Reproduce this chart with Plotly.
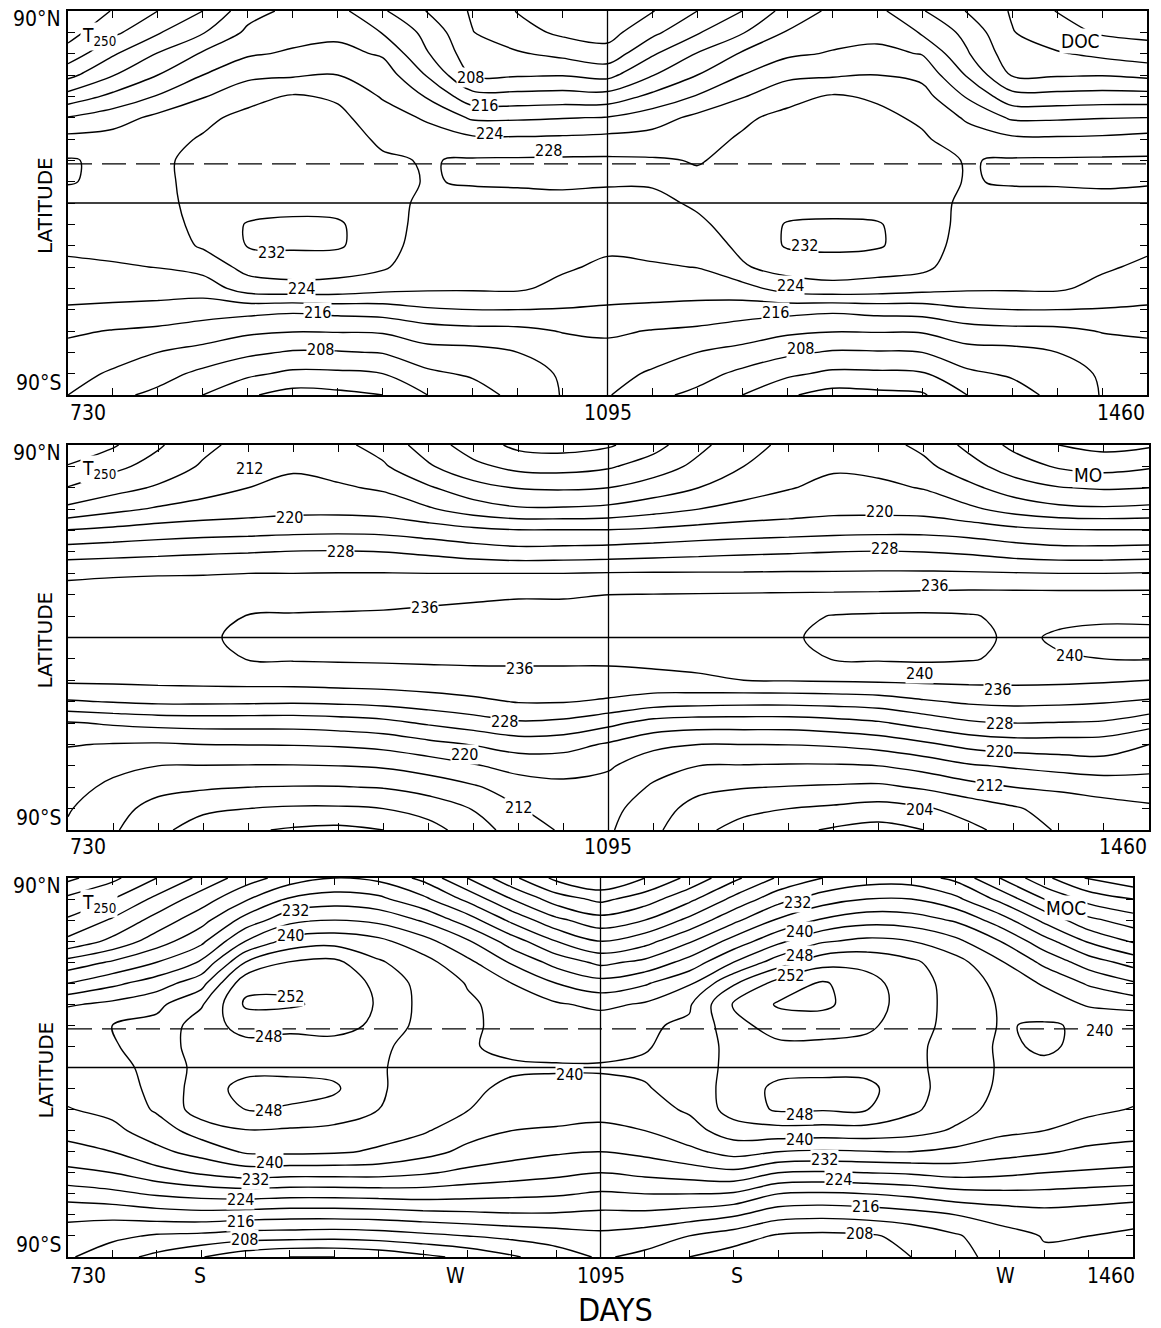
import numpy as np
import plotly.graph_objects as go

# ---------------- data ----------------
days = [730, 760.4, 790.8, 821.3, 851.7, 882.1, 912.5, 942.9, 973.3, 1003.8, 1034.2, 1064.6,
        1095, 1125.4, 1155.8, 1186.3, 1216.7, 1247.1, 1277.5, 1307.9, 1338.3, 1368.8, 1399.2,
        1429.6, 1460]
lats = [90, 80, 70, 60, 50, 40, 30, 20, 10, 0, -10, -20, -30, -40, -50, -60, -70, -80, -90]

# each inner list: temperature (K) from 90N to 90S at one of the days above
doc_cols = [
    [197, 198.5, 201.5, 206.8, 213.5, 220.2, 225.2, 228.3, 228.2, 226.8, 225.8, 224.8, 223.2, 221.4, 219.6, 216.6, 214.8, 213.4, 212],
    [200.2, 203, 207.5, 211.8, 217, 222.2, 225.5, 227.2, 227.3, 226.8, 226, 225.2, 223.6, 221.6, 219.2, 215.8, 213.6, 211.5, 209],
    [204, 207.6, 212.2, 216, 220.3, 225, 226.8, 227.5, 227.6, 227.3, 226.5, 225.6, 224.1, 221.6, 218.8, 215.2, 212, 209.6, 207],
    [208, 211.7, 216.5, 220, 223.7, 227.2, 228.3, 228.8, 228.6, 228.8, 229, 228.5, 225.5, 221.7, 218, 214, 210.8, 207, 204],
    [214.5, 216.8, 219.5, 223, 226.8, 229, 229.4, 229.5, 229.6, 230, 232.3, 232.2, 229.3, 226, 217.4, 212.8, 208.8, 204.8, 200.5],
    [217, 218.6, 220.5, 223.5, 228.4, 229.2, 229.5, 229.6, 229.8, 230.6, 232.8, 232.6, 229.8, 226.8, 216.8, 212.2, 207.6, 203.2, 198.5],
    [217.2, 219, 221.2, 224, 227.5, 228.9, 229.3, 229.6, 229.8, 230.5, 232.5, 232.5, 229.6, 226.5, 217.5, 212.3, 207.7, 203.3, 199],
    [212.5, 215.8, 219.5, 222.2, 223.6, 226, 227.5, 228.4, 229, 229.3, 229.5, 229.5, 228.5, 225.3, 218, 212.5, 208.2, 204, 200],
    [207.8, 210.8, 212.2, 215.6, 219.6, 223.4, 226, 227.8, 227.8, 227.2, 226.8, 226.2, 225.5, 224.6, 219.5, 214.2, 210.6, 207.2, 204],
    [203.5, 204.1, 205.6, 207.6, 213.4, 219.4, 224.8, 228.4, 228.3, 226.8, 226.2, 225.6, 225, 224.5, 220, 214.8, 210.8, 208.6, 206],
    [199.8, 201.5, 204.4, 207.6, 213.3, 219.4, 224.6, 228.5, 228.4, 227, 226.3, 225.7, 225.2, 224.6, 220, 215, 212, 210, 209.3],
    [197, 199.2, 203, 207.8, 213.6, 219.8, 224.8, 228.6, 228.5, 227.2, 226.4, 225.6, 224.6, 222.8, 219.8, 216.2, 214, 212.5, 212.2],
    [197, 198.5, 201.5, 206.8, 213.5, 220.2, 225.2, 228.6, 228.4, 226.8, 225.8, 224.8, 223.2, 221.4, 219.6, 216.6, 214.8, 213.4, 212.3],
    [199.8, 203, 207.5, 211.8, 217, 222.2, 225.5, 228.4, 228.3, 227.3, 226.2, 225.2, 223.6, 221.6, 219.2, 215.8, 213.6, 211.5, 209],
    [204, 207.6, 212.2, 216, 220.3, 225, 226.8, 227.8, 228.6, 228.4, 227.5, 225.8, 224.1, 221.6, 218.8, 215.2, 212, 209.6, 207],
    [208, 211.7, 216.5, 220, 223.7, 227.4, 228.4, 228.8, 228.8, 229, 229.2, 228.9, 227.6, 222.5, 218, 214, 210.8, 207, 204],
    [213.5, 216.3, 219.3, 223, 226.8, 229, 229.4, 229.5, 229.6, 230, 232.3, 232.4, 229.6, 225.8, 217.4, 212.8, 208.8, 204.8, 200.5],
    [216.8, 218.5, 220.3, 223.5, 228.4, 229.2, 229.5, 229.6, 229.8, 230.3, 232.6, 232.9, 230, 226.8, 216.8, 212.2, 207.6, 203.2, 198.5],
    [217, 218.8, 221, 224, 227.5, 228.9, 229.3, 229.6, 229.8, 230.3, 232.3, 232.4, 229.6, 226.3, 217.5, 212.3, 207.7, 203.3, 199],
    [212.3, 215.6, 219.8, 223, 225.5, 227.4, 228.5, 229.2, 229.4, 229.6, 230, 230, 229, 225.4, 217.8, 212.4, 208, 203.6, 199.5],
    [207.8, 210.8, 212.4, 215.6, 219.6, 223.4, 226, 227.8, 227.8, 227.2, 226.8, 226.2, 225.5, 224.6, 219.5, 214.2, 210.6, 207.2, 204],
    [203.6, 204.2, 205.6, 207.6, 213.4, 219.4, 224.8, 228.4, 228.3, 226.8, 226.2, 225.6, 225, 224.5, 220, 214.8, 210.8, 208.6, 206],
    [199.8, 201.5, 204.4, 207.6, 213.3, 219.4, 224.6, 228.5, 228.3, 227, 226.3, 225.7, 225.2, 224.6, 220, 215, 212, 210, 209.3],
    [198, 199.5, 203, 207.8, 213.6, 219.8, 224.8, 228.6, 228.4, 227.2, 226.4, 225.6, 224.6, 222.8, 219.8, 216.2, 214, 212.5, 212.2],
    [197.5, 199, 201.7, 207, 213.5, 220, 225.5, 228.6, 228.3, 226.8, 225.8, 224.8, 223.2, 221.4, 219.6, 216.6, 214.8, 213.4, 212],
]

mo_cols = [
    [200.5, 204.3, 208.2, 213, 220.3, 226, 231.5, 233, 233.6, 234, 233.6, 232.7, 227.6, 219.6, 216.2, 214.5, 213.3, 212.3, 211.5],
    [203.5, 207, 210.5, 215, 221, 226.5, 231.7, 233.2, 233.8, 234.2, 233.8, 232.8, 228.2, 220.5, 215.8, 213, 211.2, 209.5, 208.5],
    [207.5, 209.5, 212.5, 216.5, 221.8, 227, 231.8, 233.5, 234.2, 234.5, 234.1, 233, 228.8, 221.2, 215.6, 212, 209.2, 206.5, 205],
    [211, 212.5, 214.5, 217.5, 222.3, 227.5, 231.8, 234, 235.2, 235.5, 235.2, 233.2, 228.8, 221.5, 216, 211.9, 208.5, 204.8, 202],
    [213.5, 214.5, 216, 218.2, 222.6, 227.8, 232, 234.3, 236.1, 236.7, 236.1, 233.4, 228.7, 221.5, 216.1, 211.8, 208, 204, 200.5],
    [214, 215.5, 217, 218.8, 223, 228.2, 232, 234.3, 236.3, 237, 236.3, 233.5, 228.5, 221.5, 216.2, 211.8, 207.8, 203.5, 199.5],
    [213, 214.5, 216.5, 218.8, 223.2, 228.3, 232.1, 234.5, 236.4, 237.1, 236.4, 233.8, 228.8, 222, 216.5, 212, 207.8, 203.5, 199],
    [210.5, 212.5, 215.5, 218.3, 223, 228, 232.1, 234.7, 236.5, 237.2, 236.5, 234, 229.3, 222.8, 217.2, 212.5, 208.2, 204, 200],
    [206, 208.5, 212.5, 216.5, 222, 227.2, 232, 235.3, 236.6, 237.2, 236.6, 234.3, 230.2, 224.5, 218.8, 213.8, 209.6, 205.6, 202.5],
    [202, 205, 209.5, 214, 221, 226, 232, 235.6, 236.7, 237.2, 236.7, 234.5, 231.2, 226, 220.2, 215.6, 211.5, 208.2, 206],
    [199, 202.8, 207.8, 212.5, 220.3, 225.3, 232, 235.8, 236.8, 237.2, 236.7, 234.6, 232.2, 227.5, 221.8, 217.4, 214, 211.8, 210],
    [198.5, 202.5, 207.5, 212.5, 220.3, 225.5, 232, 235.8, 236.8, 237.3, 236.7, 234.6, 232.2, 227, 221.5, 217.6, 215, 213.5, 212.5],
    [199.5, 203.5, 208, 213, 220.3, 225.8, 232.2, 236, 237, 237.4, 236.8, 234.4, 231.5, 225, 219.5, 216.5, 214.5, 213.2, 212.5],
    [202.5, 206, 209.8, 214.5, 220.8, 226.3, 232.3, 236.1, 237.1, 237.5, 236.9, 235, 230, 222.5, 217, 213.5, 211.5, 209.8, 208.8],
    [207, 209, 212, 216, 221.5, 226.8, 232.3, 236.2, 237.3, 237.7, 237, 235.5, 229.5, 221.8, 216, 212, 209, 206.5, 205],
    [210.5, 212, 214.2, 217.3, 222, 227.3, 232.3, 236.3, 237.8, 238.3, 237.5, 236, 229.2, 221.8, 216, 211.8, 208.2, 205, 202.5],
    [213, 214.2, 215.8, 218, 222.4, 227.6, 232.4, 236.4, 239, 239.6, 238.6, 236.2, 229.2, 221.8, 216.1, 211.6, 207.8, 204, 201],
    [214, 215.5, 217, 218.8, 222.8, 228, 232.4, 236.5, 240.2, 240.8, 240.2, 236.4, 229.5, 222.5, 216.5, 211.6, 207.5, 203.3, 199.5],
    [213.5, 215, 216.8, 218.8, 223, 228.2, 232.5, 236.6, 240.5, 241, 240.4, 236.6, 230, 223.5, 217.5, 212, 207.2, 202.5, 198.5],
    [211, 213, 215.8, 218.5, 223, 228, 232.5, 236.8, 240.6, 241.1, 240.6, 236.8, 231.5, 225.5, 219.2, 213.5, 208.5, 203.5, 200],
    [207, 209.5, 213, 216.8, 222.3, 227.4, 232.4, 237, 240.3, 240.8, 240.3, 236.9, 232.6, 227.4, 221.2, 215.5, 210.5, 205.5, 203],
    [203, 206, 210, 214.5, 221.2, 226.2, 232.2, 237, 239.2, 239.5, 239.2, 236.9, 233, 228, 222.2, 216.5, 212, 207.5, 205.5],
    [200, 203.5, 208.2, 213, 220.5, 225.5, 232, 237, 239.5, 240.3, 239.8, 236.8, 232.8, 227.8, 222.2, 217.5, 212.6, 209.8, 208.5],
    [198.8, 202.5, 207.6, 212.6, 220.3, 225.5, 232, 237, 239.7, 240.5, 240, 236.5, 232.3, 227.5, 222, 218.3, 213.2, 210.8, 210],
    [199.5, 203.5, 208, 213, 220.3, 225.8, 232.2, 237, 239.6, 240.6, 240.2, 236, 231.5, 225.5, 220, 217.5, 213.5, 211.5, 211],
]

moc_cols = [
    [199, 205, 208.5, 213, 221.5, 228, 235.5, 239.7, 239.4, 238.5, 237.2, 235.8, 233.5, 230.5, 227, 222, 216.8, 214.5, 212.5],
    [203, 208, 212.5, 217, 224.5, 231, 237, 240, 239.8, 239.2, 238.5, 237, 235, 232, 228, 223, 217, 213, 209.5],
    [208, 213, 217.5, 222, 228, 234, 239, 241.2, 241, 240.8, 240.8, 240.5, 238, 235, 230.5, 224.5, 218, 211.5, 207],
    [213, 218, 222.5, 227, 232.5, 238.5, 243.5, 246, 246.5, 245.5, 246, 246, 241.8, 237.5, 232.5, 225.5, 218.5, 211, 204.2],
    [218, 223.5, 229.5, 236, 244, 250.8, 252.6, 249.5, 246.8, 246.8, 249.3, 248, 243.8, 240.5, 234, 226, 218, 210, 201.5],
    [222, 228.5, 234.8, 241.5, 248.2, 251, 252.6, 249, 246.5, 246.8, 249.5, 247.5, 243.5, 240.8, 233.5, 225.5, 217.5, 209.8, 200],
    [224, 230, 236, 242.5, 249, 250.2, 250.8, 249.5, 246.5, 246.8, 248.6, 246.5, 243, 240.5, 233.5, 225.5, 217.5, 209.5, 200],
    [223, 229, 235, 241, 244.5, 247.2, 247.6, 247.2, 245, 244.5, 244.5, 244, 241.5, 239.5, 233.5, 225.8, 217.8, 210, 201],
    [219, 225, 231.5, 237.5, 241.5, 242.5, 242.8, 242.5, 242, 242, 242, 241.5, 240.5, 237.5, 232.5, 226, 218.5, 211, 203],
    [212, 219, 226, 232.5, 237, 239.8, 240.5, 240.4, 240.2, 240.6, 240.4, 240.1, 237.5, 235, 231, 225.5, 219, 212, 205],
    [205, 212, 219, 226, 231.5, 236, 238.8, 239.3, 239.5, 240.3, 239.6, 238.5, 236, 233.5, 230, 225, 219.5, 213, 207.5],
    [199, 206, 213, 220, 226.5, 232, 236.5, 238.8, 239.3, 240.2, 239.5, 238, 235.5, 232.5, 229, 224.5, 219.5, 214, 210],
    [196, 203, 209.5, 216, 223, 229.5, 235, 238.5, 239.3, 240.2, 239.5, 237.5, 235, 232, 228, 223.5, 219, 215, 212.5],
    [200, 206, 212, 218.5, 225, 231.5, 236.5, 239.5, 239.8, 240.4, 239.8, 238.5, 236, 233, 229, 224, 219, 214, 211],
    [205, 211, 217, 223.5, 229.5, 235.5, 239.5, 240.6, 241, 241.2, 241, 240.5, 238.5, 235, 230, 224, 218, 212, 208],
    [211, 217, 223, 229.5, 236, 243.5, 248.5, 246.5, 245.5, 245.5, 246, 245.8, 242, 237.5, 231, 223.5, 216.5, 210, 206],
    [216.5, 222.5, 228.5, 235, 242, 249.5, 252.4, 250, 247, 246.8, 248.8, 248.5, 242.5, 236, 228, 220, 213.5, 207.5, 205],
    [220, 226, 232.5, 239.5, 246.5, 252.5, 252.8, 250, 247, 246.8, 249.3, 248.3, 242.3, 235.5, 227.5, 219.5, 213, 207, 205],
    [222, 228, 234.5, 241, 246.8, 249.5, 250, 248.8, 246.8, 246.8, 249, 248.1, 242.5, 235.8, 228, 220, 213.5, 207.5, 205.5],
    [222, 228, 234, 240, 244.8, 245.8, 246, 245.8, 245.2, 245.2, 245.5, 244.8, 241.5, 236, 228.5, 221, 214.5, 209, 208],
    [219, 225, 231.5, 237, 241.5, 242.5, 242.6, 242.5, 242, 242, 242, 241.5, 239.5, 235, 229.5, 222.5, 216, 211.5, 210.5],
    [212, 219, 226, 232, 236.5, 239, 239.7, 239.8, 239.6, 239.7, 239.5, 238.8, 237, 233.5, 229, 223, 217.5, 214.5, 213.5],
    [205, 212, 219, 225.5, 231, 235.5, 238.5, 240.3, 240.3, 239.6, 239, 238, 236, 232.5, 228, 223, 218.5, 216.2, 215.5],
    [199.5, 206.5, 213, 219.5, 226, 231.5, 235.5, 239.6, 239.5, 239, 238, 236.8, 234.5, 231, 227.5, 222.5, 218, 216, 215.8],
    [197, 204, 210, 215.5, 222.5, 228.5, 234.5, 239.5, 239.4, 238.5, 237.2, 235.8, 233.5, 230.5, 227, 222, 217, 215.5, 214.5],
]

contour_interval = 4
dashed_lat = 18.3

# contour labels: (text, day, latitude)
doc_labels = [("208", 1002, 58.6), ("216", 1012, 45.5), ("224", 1015.5, 32.8), ("228", 1055, 24.8),
              ("232", 868, -23), ("224", 888, -39.9), ("216", 899, -51.1), ("208", 900.5, -68.9),
              ("232", 1228.6, -19.7), ("224", 1218.5, -38.5), ("216", 1208.4, -51.1), ("208", 1225.3, -68)]
mo_labels = [("212", 852.9, 79.2), ("220", 879.9, 55.9), ("228", 913.7, 40), ("236", 971, 13.8),
             ("236", 1035.2, -14.3), ("228", 1025, -39.5), ("220", 998, -54.9), ("212", 1033.9, -79.7),
             ("220", 1278.3, 58.7), ("228", 1281.7, 41.8), ("236", 1315.4, 24.5), ("240", 1305.3, -16.6),
             ("240", 1406.6, -8.2), ("236", 1358, -24.5), ("228", 1359.3, -40), ("220", 1359.3, -53.5),
             ("212", 1352.6, -69.4), ("204", 1305.3, -80.6)]
moc_labels = [("232", 885.6, 74.8), ("240", 882.2, 62.9), ("252", 882.2, 33.5), ("248", 867.1, 14.5),
              ("240", 1074, -3.5), ("248", 867.1, -20.2), ("240", 868.4, -44.9), ("232", 858.2, -53.4),
              ("224", 847.9, -62.9), ("216", 847.9, -73.3), ("208", 851.3, -81.9),
              ("232", 1230.3, 78.6), ("240", 1231.7, 64.4), ("248", 1231.7, 53.4), ("252", 1224.9, 43.9),
              ("240", 1437.3, 17.8), ("248", 1231.7, -22.5), ("240", 1231.7, -34.4), ("232", 1248.8, -43.9),
              ("224", 1257.8, -53.4), ("216", 1276.3, -66.2), ("208", 1272.8, -78.6)]

month_ticks = [730 + 365 * k / 12 for k in range(25)]
lat_ticks = list(range(-90, 91, 10))

# ---------------- figure ----------------
W, H = 1161, 1328
FONT = "DejaVu Sans Condensed"

panels = [
    dict(cols=doc_cols, labels=doc_labels, xpx=(68, 1147), ypx=(11, 395), name="DOC", dashed=True,
         xt=[("730", 68, "left"), ("1095", 608, "center"), ("1460", 1147, "right")], xty=413),
    dict(cols=mo_cols, labels=mo_labels, xpx=(68, 1149), ypx=(445, 830), name="MO", dashed=False,
         xt=[("730", 68, "left"), ("1095", 608, "center"), ("1460", 1149, "right")], xty=847),
    dict(cols=moc_cols, labels=moc_labels, xpx=(68, 1133), ypx=(878, 1257), name="MOC", dashed=True,
         xt=[("730", 68, "left"), ("S", 200, "center"), ("W", 455, "center"), ("1095", 601, "center"),
             ("S", 737, "center"), ("W", 1005, "center"), ("1460", 1137, "right")], xty=1276),
]

fig = go.Figure()
annotations = []
shapes = []
layout = {}

for i, p in enumerate(panels):
    n = "" if i == 0 else str(i + 1)
    xa, ya = "x" + n, "y" + n
    z = np.array(p["cols"]).T
    fig.add_trace(go.Contour(
        x=days, y=lats, z=z, xaxis=xa, yaxis=ya,
        contours=dict(start=180, end=260, size=contour_interval, coloring="lines", showlabels=False),
        colorscale=[[0, "black"], [1, "black"]], showscale=False,
        line=dict(width=1.4, smoothing=1.0), hoverinfo="skip"))
    x0, x1 = p["xpx"]
    y0, y1 = p["ypx"]
    layout["xaxis" + n] = dict(
        domain=[x0 / W, x1 / W], range=[730, 1460], anchor=ya,
        tickvals=month_ticks, showticklabels=False, ticks="inside", ticklen=7, tickwidth=1,
        tickcolor="black", showline=True, linewidth=1.8, linecolor="black", mirror="ticks",
        showgrid=False, zeroline=False)
    layout["yaxis" + n] = dict(
        domain=[1 - y1 / H, 1 - y0 / H], range=[-90, 90], anchor=xa,
        tickvals=lat_ticks, showticklabels=False, ticks="inside", ticklen=7, tickwidth=1,
        tickcolor="black", showline=True, linewidth=1.8, linecolor="black", mirror="ticks",
        showgrid=False, zeroline=False)
    # equator, year divider, dashed line
    shapes.append(dict(type="line", xref=xa, yref=ya, x0=730, x1=1460, y0=0, y1=0,
                       line=dict(color="black", width=1.3)))
    shapes.append(dict(type="line", xref=xa, yref=ya, x0=1095, x1=1095, y0=-90, y1=90,
                       line=dict(color="black", width=1.3)))
    if p["dashed"]:
        shapes.append(dict(type="line", xref=xa, yref=ya, x0=730, x1=1460, y0=dashed_lat, y1=dashed_lat,
                           line=dict(color="black", width=1.2, dash="24px,10px")))
    # contour labels
    for txt, d, la in p["labels"]:
        annotations.append(dict(x=d, y=la, xref=xa, yref=ya, text=txt, showarrow=False,
                                font=dict(family=FONT, size=16, color="black"),
                                bgcolor="white", borderpad=0))
    # axis texts
    for txt, px, anc in p["xt"]:
        annotations.append(dict(x=px / W, y=1 - p["xty"] / H, xref="paper", yref="paper", text=txt,
                                xanchor=anc, yanchor="middle", showarrow=False,
                                font=dict(family=FONT, size=21, color="black")))
    annotations.append(dict(x=63 / W, y=1 - (y0 + 8) / H, xref="paper", yref="paper", text="90°N",
                            xanchor="right", yanchor="middle", showarrow=False,
                            font=dict(family=FONT, size=21, color="black")))
    annotations.append(dict(x=63 / W, y=1 - (y1 - 12) / H, xref="paper", yref="paper", text="90°S",
                            xanchor="right", yanchor="middle", showarrow=False,
                            font=dict(family=FONT, size=21, color="black")))
    annotations.append(dict(x=45 / W, y=1 - ((y0 + y1) / 2 + 3) / H, xref="paper", yref="paper",
                            text="LATITUDE", textangle=-90, xanchor="center", yanchor="middle",
                            showarrow=False, font=dict(family="DejaVu Sans", size=20, color="black")))
    annotations.append(dict(x=(x0 + 12) / W, y=1 - (y0 + 25) / H, xref="paper", yref="paper",
                            text="T<sub>250</sub>", xanchor="left", yanchor="middle", showarrow=False,
                            bgcolor="white", font=dict(family=FONT, size=19, color="black")))
    annotations.append(dict(x=(x1 - 45) / W, y=1 - (y0 + 30) / H, xref="paper", yref="paper",
                            text=p["name"], xanchor="right", yanchor="middle", showarrow=False,
                            bgcolor="white", font=dict(family=FONT, size=19, color="black")))

annotations.append(dict(x=615 / W, y=1 - 1310 / H, xref="paper", yref="paper", text="DAYS",
                        xanchor="center", yanchor="middle", showarrow=False,
                        font=dict(family=FONT, size=32, color="black")))

fig.update_layout(width=W, height=H, margin=dict(l=0, r=0, t=0, b=0),
                  paper_bgcolor="white", plot_bgcolor="white", showlegend=False,
                  annotations=annotations, shapes=shapes, **layout)

fig.write_html("out.html")
